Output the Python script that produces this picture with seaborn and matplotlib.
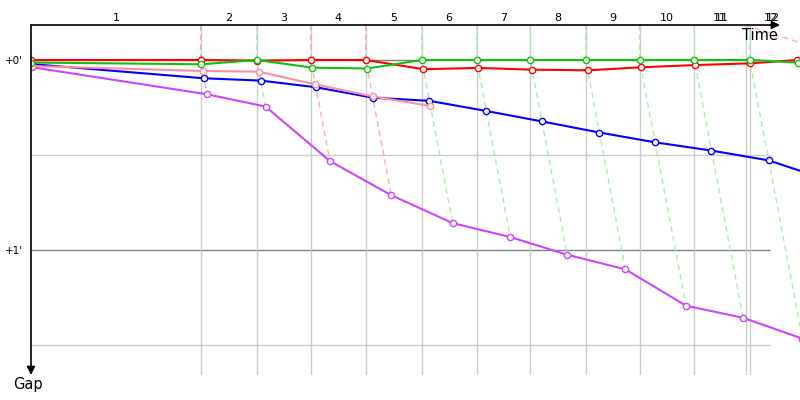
import pandas as pd
import matplotlib
matplotlib.use("Agg")
import matplotlib.pyplot as plt
import seaborn as sns


# lap marks: time (s) the leading car crossed the line; lap 11 has two marks
lap_numbers = [1, 2, 3, 4, 5, 6, 7, 8, 9, 10, 11, 11, 12]
lap_times = [282.8, 376.2, 466.2, 557.8, 651.2, 742.8, 832.2, 924.5, 1014.2, 1105.5, 1191.2, 1197.8, 1276.7]
lap_leaders = ["red", "green", "red", "red", "green", "green", "green", "green",
               "green", "green", "red", "green", "red"]

# leader clock for each lap of the cars (lap 0 = start)
clock = [0.0, 282.8, 376.2, 466.2, 557.8, 651.2, 742.8, 832.2, 924.5, 1014.2, 1105.5, 1197.8, 1276.7]

# gap to leader (s) per lap
gap_red = [0.0, 0.0, 0.2, 0.0, 0.0, 2.9, 2.5, 3.05, 3.26, 2.3, 1.6, 1.05, 0.0]
gap_green = [0.8, 1.36, 0.0, 2.4, 2.7, 0.0, 0.0, 0.0, 0.0, 0.0, 0.0, 0.0, 0.8]
gap_pink = [1.9, 3.47, 3.7, 7.7, 11.5, 14.5]
gap_blue = [1.3, 5.78, 6.5, 8.6, 11.9, 12.9, 16.1, 19.4, 22.9, 26.0, 28.6, 31.7, 37.0]
gap_purple = [2.3, 10.83, 14.7, 31.9, 42.7, 51.5, 55.9, 61.5, 66.1, 77.6, 81.4, 88.0]

# where the dashed line of the early red mark on lap 11 heads (s)
stray_dash_end = 1371.0

gaps = {"purple": gap_purple, "blue": gap_blue, "pink": gap_pink,
        "red": gap_red, "green": gap_green}
palette = {"red": "#ff0000", "green": "#10c010", "pink": "#ff8ca0",
           "blue": "#0000ff", "purple": "#cc44ff"}
dash_colors = {"red": "#ffaaaa", "green": "#aaeeaa"}

rows = []
for car, g in gaps.items():
    for lap, v in enumerate(g):
        rows.append({"car": car, "lap": lap, "time": clock[lap] + v, "gap": v})
df = pd.DataFrame(rows)

plt.rcParams["font.family"] = ["DejaVu Sans"]
fig = plt.figure(figsize=(8, 4), dpi=100)
ax = fig.add_axes([31 / 800, 25 / 400, 769 / 800, 350 / 400])

px_per_s_x = 0.6
px_per_s_y = 190 / 60
x_max = 769 / px_per_s_x
y_top = -35 / px_per_s_y
y_bot = 315 / px_per_s_y
t_end = (770 - 31) / px_per_s_x

# grid
ax.hlines([30, 90], 0, t_end, color="#cccccc", lw=1, zorder=1)
ax.hlines([0, 60], 0, t_end, color="#808080", lw=1, zorder=1)
for t in lap_times:
    if t <= t_end:
        ax.vlines(t, y_top, y_bot, color="#cccccc", lw=1, zorder=1)

# dashed lap lines down to the last car
for n, t, lead in zip(lap_numbers, lap_times, lap_leaders):
    if t > t_end:
        continue
    col = dash_colors[lead]
    if t != clock[n]:
        ax.plot([t, stray_dash_end], [y_top, 0], color=col, lw=1, ls=(0, (4, 3)), zorder=2)
        continue
    last = max(g[n] for g in gaps.values() if len(g) > n)
    ax.plot([t, t, t + last], [y_top, 0, last], color=col, lw=1, ls=(0, (4, 3)), zorder=2)

sns.lineplot(data=df, x="time", y="gap", hue="car", palette=palette,
             hue_order=list(gaps.keys()), sort=False, estimator=None,
             marker="o", markersize=4.5, linewidth=1.5, legend=False, ax=ax, zorder=3)
for line in ax.lines:
    if line.get_marker() == "o":
        line.set_markerfacecolor("white")
        line.set_markeredgecolor(line.get_color())
        line.set_markeredgewidth(1.0)

ax.set_xlim(0, x_max)
ax.set_ylim(y_bot, y_top)
for s in ax.spines.values():
    s.set_visible(False)
ax.set_xticks([])
ax.set_yticks([0, 60], ["+0'", "+1'"])
ax.tick_params(axis="y", length=0, pad=6, labelsize=7.5)
ax.set_xlabel("")
ax.set_ylabel("")

# axes with arrows
ax.annotate("", xy=((780 - 31) / px_per_s_x, y_top), xytext=(0, y_top),
            arrowprops=dict(arrowstyle="-|>", color="black", lw=1.2, mutation_scale=12,
                            shrinkA=0, shrinkB=0), annotation_clip=False)
ax.annotate("", xy=(0, y_bot), xytext=(0, y_top),
            arrowprops=dict(arrowstyle="-|>", color="black", lw=1.2, mutation_scale=12,
                            shrinkA=0, shrinkB=0), annotation_clip=False)

# lap numbers centred over each lap
label_y = -42 / px_per_s_y
for n, t in zip(lap_numbers, lap_times):
    prevs = [0.0] if n == 1 else [p for m, p in zip(lap_numbers, lap_times) if m == n - 1]
    for p in prevs:
        ax.text((p + t) / 2, label_y, str(n), ha="center", va="center", fontsize=8)

fig.text(760 / 800, 1 - 35 / 400, "Time", ha="center", va="center", fontsize=10.5)
fig.text(28 / 800, 1 - 385 / 400, "Gap", ha="center", va="center", fontsize=10.5)

fig.savefig("out.png", dpi=100)
